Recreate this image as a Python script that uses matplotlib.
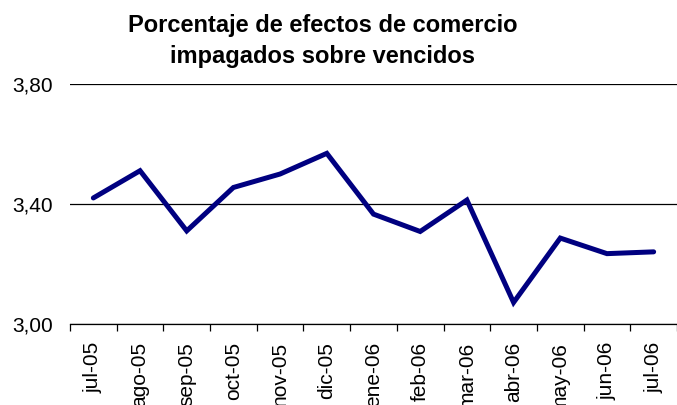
import matplotlib
matplotlib.use("Agg")
import matplotlib.pyplot as plt
import numpy as np

months = ["jul-05", "ago-05", "sep-05", "oct-05", "nov-05", "dic-05", "ene-06",
          "feb-06", "mar-06", "abr-06", "may-06", "jun-06", "jul-06"]
values = [3.421, 3.512, 3.311, 3.456, 3.501, 3.570, 3.367,
          3.309, 3.414, 3.072, 3.287, 3.235, 3.241]
yticks = [3.00, 3.40, 3.80]
ytick_labels = ["3,00", "3,40", "3,80"]
title = "Porcentaje de efectos de comercio\nimpagados sobre vencidos"

plt.rcParams['font.family'] = ['Liberation Sans', 'DejaVu Sans']

fig = plt.figure(figsize=(6.77, 4.05), dpi=100)
ax = fig.add_axes([70/677, 0.2, 1 - 70/677, 0.5914])

x = np.arange(len(months))
ax.plot(x, values, color="#000080", lw=3.6, solid_joinstyle="miter", solid_capstyle="round", zorder=3)

ax.set_xlim(-0.5, len(months) - 0.5)
ax.set_ylim(3.0, 3.8)
ax.set_yticks(yticks)
ax.set_yticklabels(ytick_labels, fontsize=15)
ax.tick_params(axis="y", length=0, pad=12.2)
ax.yaxis.grid(True, color="black", lw=0.9)
ax.set_axisbelow(True)

ax.set_xticks(x)
ax.set_xticklabels(months, rotation=90, fontsize=15, va="top")
ax.tick_params(axis="x", which="major", length=0, pad=13)
ax.set_xticks(np.arange(len(months) + 1) - 0.5, minor=True)
ax.tick_params(axis="x", which="minor", length=5, width=0.9, direction="out", color="black")

for s in ["left", "right", "top"]:
    ax.spines[s].set_visible(False)
ax.spines["bottom"].set_color("black")
ax.spines["bottom"].set_linewidth(0.9)

fig.text(323/677, 1 - 14/405, title, ha="center", va="top", fontsize=17,
         fontweight="bold", linespacing=1.45)

fig.savefig("out.png", dpi=100)
